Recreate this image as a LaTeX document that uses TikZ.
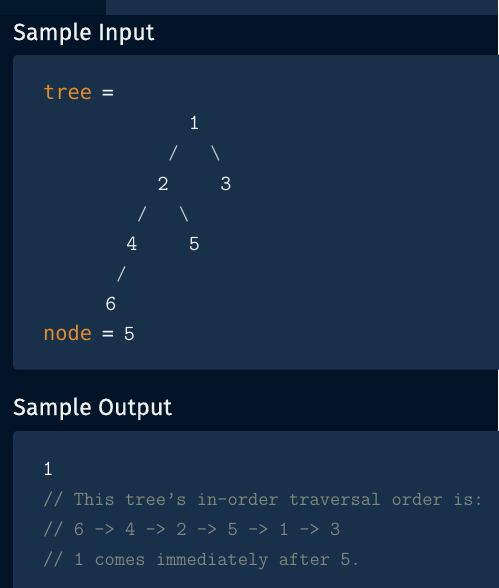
\documentclass[tikz,border=0pt]{standalone}
\usepackage{fontspec}
\newfontfamily\headfont[FakeBold=0.5]{Fira Sans}
\newfontfamily\kwfont{DejaVu Sans Mono}
\definecolor{bgc}{HTML}{011427}
\definecolor{topc}{HTML}{1A304A}
\definecolor{topl}{HTML}{04182C}
\definecolor{panelc}{HTML}{18304A}
\definecolor{headc}{HTML}{F0F2F4}
\definecolor{kwc}{HTML}{E38B2A}
\definecolor{numc}{HTML}{F2F3F4}
\definecolor{slc}{HTML}{C4C8CC}
\definecolor{cmc}{HTML}{80857B}
\tikzset{
  headtxt/.style={anchor=base west, inner sep=0pt, text=headc, font=\headfont\fontsize{23.3}{24}\selectfont},
  kwtxt/.style={anchor=base west, inner sep=0pt, text=kwc, font=\kwfont\fontsize{20.3}{21}\selectfont},
  eqtxt/.style={anchor=base, inner sep=0pt, text=numc, font=\kwfont\fontsize{20.3}{21}\selectfont},
  numtxt/.style={anchor=base, inner sep=0pt, text=numc, font=\ttfamily\fontsize{21.5}{22}\selectfont},
  sltxt/.style={anchor=base, inner sep=0pt, text=slc, font=\ttfamily\fontsize{19.9}{20}\selectfont},
  cmtxt/.style={anchor=base west, inner sep=0pt, text=cmc, font=\ttfamily\fontsize{19.9}{20}\selectfont},
  panelbox/.style={fill=panelc, rounded corners=4pt}
}
\begin{document}
\begin{tikzpicture}[x=1pt,y=-1pt]
\useasboundingbox (0,0) rectangle (498,588);
\fill[bgc] (0,0) rectangle (498,588);
\fill[topl] (0,0) rectangle (106,15.5);
\fill[topc] (106,0) rectangle (498,15.5);
% panels
\fill[panelbox] (13,55) rectangle (520,369.5);
\fill[panelbox] (13,431) rectangle (520,610);
% headings
\node[headtxt] (h1) at (13,40) {Sample Input};
\node[headtxt] (h2) at (13,415) {Sample Output};
% input code
\node[kwtxt] (tree) at (43,100) {tree};
\node[eqtxt] (eq1) at (108,100) {=};
\node[numtxt] (n1) at (194.5,130) {1};
\node[sltxt] (s12) at (173.6,160) {/};
\node[sltxt] (s13) at (215.4,160) {\symbol{92}};
\node[numtxt] (n2) at (163.2,190) {2};
\node[numtxt] (n3) at (225.9,190) {3};
\node[sltxt] (s24) at (142.3,220) {/};
\node[sltxt] (s25) at (184.1,220) {\symbol{92}};
\node[numtxt] (n4) at (131.8,250) {4};
\node[numtxt] (n5) at (194.5,250) {5};
\node[sltxt] (s46) at (121.4,280) {/};
\node[numtxt] (n6) at (110.9,310) {6};
\node[kwtxt] (node) at (43,340) {node};
\node[eqtxt] (eq2) at (108,340) {=};
\node[numtxt] (nv) at (129.5,340) {5};
% output
\node[numtxt] (out) at (48.2,475) {1};
\node[cmtxt] (c1) at (43,505) {// This tree’s in-order traversal order is:};
\node[cmtxt] (c2) at (43,535) {// 6 -> 4 -> 2 -> 5 -> 1 -> 3};
\node[cmtxt] (c3) at (43,565) {// 1 comes immediately after 5.};
\end{tikzpicture}
\end{document}
